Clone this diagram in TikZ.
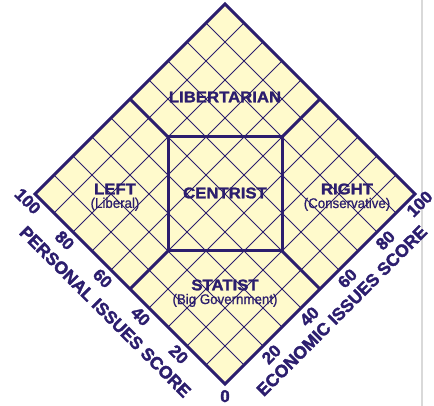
\documentclass[tikz,border=0pt]{standalone}
\usepackage{fontspec}
\setmainfont{Liberation Sans}
\newfontfamily\widefont{Liberation Sans Bold}[FakeStretch=1.08, FakeBold=1.6]
\newfontfamily\heavyfont{Liberation Sans Bold}[FakeBold=2]
\newfontfamily\subfont{Liberation Sans}[FakeStretch=0.95, FakeBold=0.8]
\usetikzlibrary{positioning}
\definecolor{chartink}{RGB}{44,30,110}
\definecolor{chartfill}{RGB}{255,250,204}

\begin{document}
\begin{tikzpicture}[x=1pt, y=1pt,
    region/.style={font=\widefont\fontsize{15.5}{16}\selectfont, text=chartink, inner sep=0pt},
    subregion/.style={font=\subfont\fontsize{14}{14}\selectfont, text=chartink, inner sep=0pt},
    score/.style={font=\heavyfont\fontsize{17}{17}\selectfont, text=chartink, inner sep=0pt},
    axislabel/.style={font=\heavyfont\fontsize{17.5}{18}\selectfont, text=chartink, inner sep=0pt},
    thin grid/.style={chartink, line width=0.9pt},
    thick rule/.style={chartink, line width=3pt}]
    \useasboundingbox (0,0) rectangle (434,406);
    \draw[gray!30, line width=2pt] (422,0) -- (422,406);

    \begin{scope}[shift={(225pt,22pt)}, x={(1.9pt,1.9pt)}, y={(-1.9pt,1.9pt)}]
        \coordinate (bot) at (0,0);
        \coordinate (rgt) at (100,0);
        \coordinate (top) at (100,100);
        \coordinate (lft) at (0,100);

        \coordinate (sqS) at (50,20);
        \coordinate (sqE) at (80,50);
        \coordinate (sqN) at (50,80);
        \coordinate (sqW) at (20,50);

        \fill[chartfill] (bot) -- (rgt) -- (top) -- (lft) -- cycle;
        \foreach \i in {10,20,...,90} {
            \draw[thin grid] (\i,0) -- (\i,100);
            \draw[thin grid] (0,\i) -- (100,\i);
        }

        \draw[thick rule] (sqN) -- (50,100);
        \draw[thick rule] (sqE) -- (100,50);
        \draw[thick rule] (sqW) -- (0,50);
        \draw[thick rule] (sqS) -- (50,0);
        \draw[thick rule] (sqS) -- (sqE) -- (sqN) -- (sqW) -- cycle;
        \draw[thick rule] (bot) -- (rgt) -- (top) -- (lft) -- cycle;

        \foreach \v in {20,40,60,80} {
            \node[score, rotate=45]  (e\v) at (\v,-4.4) {\v};
            \node[score, rotate=-45] (p\v) at (-4.4,\v) {\v};
        }
        \node[score, rotate=45]  (e100) at (98.6,-3.8) {100};
        \node[score, rotate=-45] (p100) at (-3.8,100) {100};
        \node[score] (zero) at (-3.2,-3.2) {0};

        \node[axislabel, rotate=-45] (personal) at (-12.5,50.5) {PERSONAL ISSUES SCORE};
        \node[axislabel, rotate=45]  (economic) at (50,-11.5) {ECONOMIC ISSUES SCORE};
    \end{scope}

    \node[region] (libertarian) at (225,309) {LIBERTARIAN};
    \node[region] (centrist) at (225,213) {CENTRIST};
    \node[region] (left) at (115,217) {LEFT};
    \node[subregion, below=3pt of left] (liberal) {(Liberal)};
    \node[region] (right) at (347,217) {RIGHT};
    \node[subregion, below=3pt of right] (conservative) {(Conservative)};
    \node[region] (statist) at (225,121) {STATIST};
    \node[subregion, below=3pt of statist] (biggov) {(Big Government)};
\end{tikzpicture}
\end{document}
